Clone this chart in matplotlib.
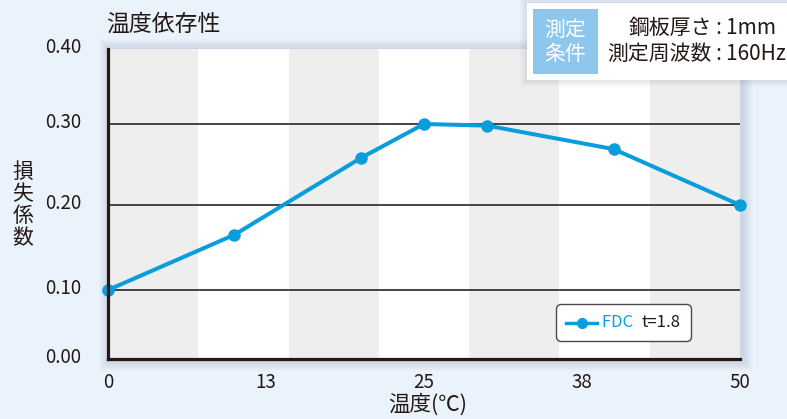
import numpy as np
import matplotlib
matplotlib.use("Agg")
import matplotlib.pyplot as plt
import matplotlib.transforms as mtransforms
from matplotlib.patches import Rectangle
from matplotlib.lines import Line2D
from matplotlib.offsetbox import AnchoredOffsetbox, HPacker, TextArea, DrawingArea

plt.rcParams['font.family'] = ['Noto Sans CJK JP', 'DejaVu Sans']

# ---------------- data ----------------
temps = [0, 10, 20, 25, 30, 40, 50]
loss = [0.10, 0.165, 0.258, 0.300, 0.298, 0.269, 0.200]
series_name = "FDC"
series_note = "t=1.8"
x_ticks = [0, 12.5, 25, 37.5, 50]
x_tick_labels = ["0", "13", "25", "38", "50"]
y_ticks = [0.0, 0.1, 0.2, 0.3, 0.4]
y_tick_labels = ["0.00", "0.10", "0.20", "0.30", "0.40"]
grid_values = [0.1, 0.2, 0.3]
title = "温度依存性"
xlabel = "温度(℃)"
ylabel = "損\n失\n係\n数"
cond_tag = "測定\n条件"
cond_keys = ["鋼板厚さ", "測定周波数"]
cond_vals = ["\u2009:\u20091mm", "\u2009:\u2009160Hz"]

# ---------------- style ----------------
BLUE = "#0A9DDC"
INK = "#231815"
BG = "#EAF2FB"
BAND = "#EEEEEE"
TAG = "#8DC7EE"
W, H = 787, 419

# the printed chart's value axis is not evenly spaced; follow its gridlines
scale_vals = [0.0, 0.1, 0.2, 0.3, 0.4]
scale_pos = [0.0, 69.0, 154.0, 235.0, 310.0]
fwd = lambda v: np.interp(v, scale_vals, scale_pos)
inv = lambda p: np.interp(p, scale_pos, scale_vals)

fig = plt.figure(figsize=(W / 100, H / 100), dpi=100, facecolor=BG)

def fx(px):
    return px / W

def fy(py):
    return 1 - py / H

# plot area in pixels
L, R, T, B = 108, 740, 49, 359
ax = fig.add_axes([fx(L), fy(B), fx(R - L), (B - T) / H])
ax.set_zorder(2)

# soft shadow around plot area (behind axes)
for i in range(1, 12):
    fig.patches.append(Rectangle((fx(L - i + 2), fy(B + i + 1)), fx(R - L + 2 * i), (B - T + 2 * i) / H,
                                 transform=fig.transFigure, facecolor="#8796AE",
                                 alpha=0.028, edgecolor="none", zorder=0))

ax.set_facecolor("white")
ax.set_yscale("function", functions=(fwd, inv))
ax.set_xlim(0, 50)
ax.set_ylim(0, 0.4)

# alternating vertical bands
edges = np.linspace(0, 50, 8)
for k in range(7):
    ax.axvspan(edges[k], edges[k + 1], color=BAND if k % 2 == 0 else "white", lw=0, zorder=0)

for g in grid_values:
    ax.axhline(g, color="#3b3434", lw=1.3, zorder=1)

ax.plot(temps, loss, color=BLUE, lw=2.9, marker="o", ms=8, clip_on=False, zorder=5,
        solid_joinstyle="round")

for s in ["top", "right"]:
    ax.spines[s].set_visible(False)
for s in ["left", "bottom"]:
    ax.spines[s].set_color(INK)
    ax.spines[s].set_linewidth(2.3)
    ax.spines[s].set_zorder(6)

ax.set_xticks(x_ticks, x_tick_labels)
ax.set_yticks(y_ticks, y_tick_labels)
ax.tick_params(axis="both", length=0, labelsize=13.5, colors=INK)
ax.tick_params(axis="x", pad=9)
ax.tick_params(axis="y", pad=19)
shift = mtransforms.ScaledTranslation(0, 3 / 72, fig.dpi_scale_trans)
for lab in ax.get_yticklabels():
    lab.set_transform(lab.get_transform() + shift)

# legend
da = DrawingArea(22, 10, 0, 0)
da.add_artist(Line2D([0, 22], [5, 5], color=BLUE, lw=2.5))
da.add_artist(Line2D([11], [5], marker="o", ms=7, color=BLUE, lw=0))
t1 = TextArea(series_name + " ", textprops=dict(color=BLUE, fontsize=12))
t2 = TextArea(series_note, textprops=dict(color=INK, fontsize=12))
pack = HPacker(children=[da, t1, t2], sep=3.5, pad=0, align="center")
anch = AnchoredOffsetbox(loc="center", child=pack, pad=0.6, borderpad=0, frameon=True,
                         bbox_to_anchor=(0.8157, 0.1177), bbox_transform=ax.transAxes,
                         prop=dict(size=12))
anch.patch.set_boxstyle("round", pad=0, rounding_size=0.3)
anch.patch.set_edgecolor("#4e4848")
anch.patch.set_linewidth(1.0)
anch.set_zorder(7)
ax.add_artist(anch)

# title and axis labels
fig.text(fx(106), fy(24), title, fontsize=16.5, color=INK, ha="left", va="center")
fig.text(fx(23), fy(205), ylabel, fontsize=15, color=INK, ha="center", va="center",
         linespacing=1.0)
fig.text(fx(428), fy(405), xlabel, fontsize=15.5, color=INK, ha="center", va="center")

# condition box (top right)
for i in range(1, 8):
    fig.patches.append(Rectangle((fx(527 - i), fy(80 + i)), fx(270 + 2 * i), (77 + 2 * i) / H,
                                 transform=fig.transFigure, facecolor="#8796AE",
                                 alpha=0.03, edgecolor="none", zorder=8))
fig.patches.append(Rectangle((fx(527), fy(80)), fx(270), 77 / H, transform=fig.transFigure,
                             facecolor="white", edgecolor="none", zorder=9))
fig.patches.append(Rectangle((fx(533), fy(74)), fx(65), 65 / H, transform=fig.transFigure,
                             facecolor=TAG, edgecolor="none", zorder=10))
fig.text(fx(565.5), fy(42), cond_tag, fontsize=15, color="white", ha="center", va="center",
         linespacing=1.1, zorder=11)
for k, (key, val) in enumerate(zip(cond_keys, cond_vals)):
    yy = fy(28 + 26 * k)
    fig.text(fx(712), yy, key, fontsize=15, color=INK, ha="right", va="center", zorder=11)
    fig.text(fx(712), yy, val, fontsize=15, color=INK, ha="left", va="center", zorder=11)

fig.savefig("out.png", dpi=100, facecolor=BG)
